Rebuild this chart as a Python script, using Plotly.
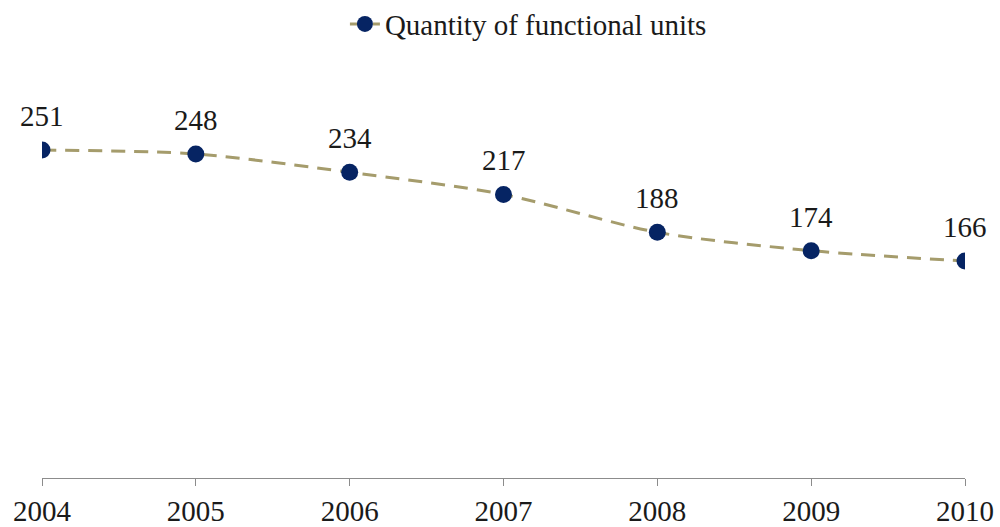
import plotly.graph_objects as go

years = [2004, 2005, 2006, 2007, 2008, 2009, 2010]
units = [251, 248, 234, 217, 188, 174, 166]

FONT = "Liberation Serif"

fig = go.Figure()
fig.add_trace(go.Scatter(
    x=years,
    y=units,
    mode="lines+markers",
    name="Quantity of functional units",
    line=dict(color="#a59c6c", width=3, dash="14px,9px", shape="spline", smoothing=0.8),
    marker=dict(color="#062463", size=17),
))

for x, y in zip(years, units):
    fig.add_annotation(
        x=x, y=y, text=str(y), showarrow=False, yshift=34,
        font=dict(family=FONT, size=29, color="#1a1a1a"),
    )

fig.update_layout(
    width=1000,
    height=527,
    paper_bgcolor="white",
    plot_bgcolor="white",
    margin=dict(l=42, r=35, t=86, b=49, autoexpand=False),
    showlegend=True,
    legend=dict(
        orientation="h", x=0.527, xanchor="center", y=1.158, yanchor="middle",
        font=dict(family=FONT, size=29, color="#1a1a1a"),
    ),
    xaxis=dict(
        range=[2004, 2010],
        tickvals=years,
        showgrid=False,
        zeroline=False,
        showline=True,
        linecolor="#8c8c8c",
        linewidth=1,
        ticks="outside",
        ticklen=7,
        tickcolor="#8c8c8c",
        tickfont=dict(family=FONT, size=29, color="#1a1a1a"),
        automargin=False,
    ),
    yaxis=dict(
        range=[0, 300],
        visible=False,
    ),
)

# drop the browser's default body margin so the figure fills the window
fig.write_html(
    "out.html",
    config={"displayModeBar": False},
    post_script="document.body.style.margin='0';document.body.style.overflow='hidden';",
)
